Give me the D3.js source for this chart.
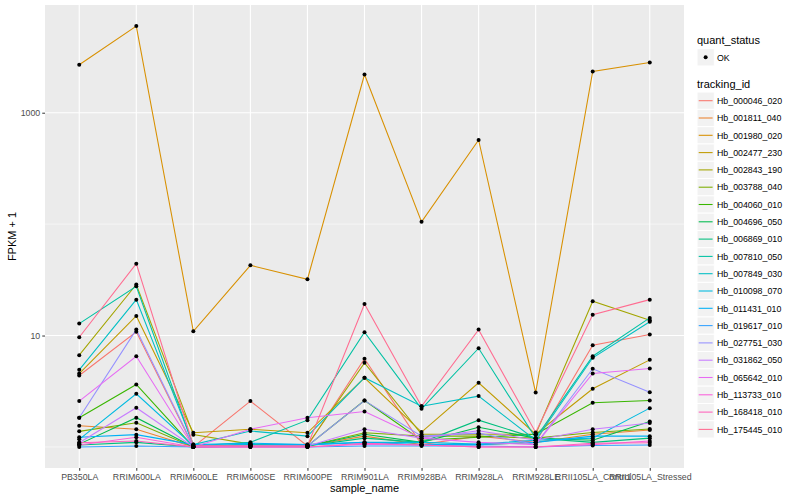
<!DOCTYPE html>
<html>
<head>
<meta charset="utf-8">
<script src="https://cdn.jsdelivr.net/npm/d3@7"></script>
<style>
  body { margin: 0; background: #fff; }
  text { font-family: "Liberation Sans", Arial, sans-serif; }
</style>
</head>
<body>
<svg id="chart" width="800" height="500"></svg>
<script>
// samples on the x axis
const samples = ["PB350LA", "RRIM600LA", "RRIM600LE", "RRIM600SE", "RRIM600PE", "RRIM901LA",
    "RRIM928BA", "RRIM928LA", "RRIM928LE", "RRII105LA_Control", "RRII105LA_Stressed"];

const trackingIds = ["Hb_000046_020", "Hb_001811_040", "Hb_001980_020", "Hb_002477_230", "Hb_002843_190",
    "Hb_003788_040", "Hb_004060_010", "Hb_004696_050", "Hb_006869_010", "Hb_007810_050",
    "Hb_007849_030", "Hb_010098_070", "Hb_011431_010", "Hb_019617_010", "Hb_027751_030",
    "Hb_031862_050", "Hb_065642_010", "Hb_113733_010", "Hb_168418_010", "Hb_175445_010"];

// FPKM + 1, one row per tracking id, one value per sample
const hb000046 = [4.38, 10.8, 1.0, 2.58, 1.02, 6.18, 1.05, 1.25, 1.1, 8.18, 10.2];
const hb001811 = [1.55, 1.44, 1.0, 1.02, 1.02, 1.25, 1.05, 1.05, 1.1, 1.3, 1.42];
const hb001980 = [2692, 5995, 10.9, 42.7, 32, 2203, 104.8, 569, 3.08, 2346, 2827];
const hb002477 = [4.56, 15.0, 1.34, 1.44, 1.34, 4.18, 1.36, 3.77, 1.3, 3.33, 6.05];
const hb002843 = [6.66, 28.7, 1.29, 1.06, 1.04, 5.69, 1.3, 1.3, 1.3, 20.3, 13.7];
const hb003788 = [1.38, 1.65, 1.0, 1.05, 1.02, 1.34, 1.25, 1.25, 1.2, 1.35, 1.45];
const hb004060 = [1.83, 3.64, 1.0, 1.02, 1.02, 2.61, 1.15, 1.22, 1.3, 2.49, 2.61];
const hb004696 = [1.06, 1.83, 1.0, 1.05, 1.02, 1.3, 1.1, 1.5, 1.2, 1.15, 1.69];
const hb006869 = [1.04, 1.1, 1.0, 1.02, 1.02, 1.2, 1.1, 1.74, 1.2, 1.1, 1.2];
const hb007810 = [12.8, 27.7, 1.02, 1.1, 1.74, 10.7, 2.2, 7.69, 1.2, 6.52, 14.4];
const hb007849 = [4.92, 21.0, 1.05, 1.39, 1.25, 4.18, 2.32, 2.86, 1.15, 6.31, 13.3];
const hb010098 = [1.17, 3.0, 1.02, 1.06, 1.05, 1.1, 1.1, 1.06, 1.15, 1.2, 2.23];
const hb011431 = [1.22, 1.29, 1.05, 1.08, 1.05, 1.1, 1.05, 1.05, 1.1, 1.25, 1.25];
const hb019617 = [1.0, 1.02, 1.0, 1.0, 1.0, 1.02, 1.02, 1.02, 1.0, 1.03, 1.04];
const hb027751 = [1.83, 11.3, 1.02, 1.03, 1.02, 2.61, 1.25, 1.33, 1.05, 5.03, 3.1];
const hb031862 = [1.09, 2.25, 1.0, 1.02, 1.02, 1.44, 1.2, 1.4, 1.15, 1.44, 1.64];
const hb065642 = [2.58, 6.52, 1.0, 1.44, 1.83, 2.08, 1.2, 1.1, 1.05, 4.56, 5.06];
const hb113733 = [1.04, 1.22, 1.0, 1.0, 1.0, 1.06, 1.04, 1.0, 1.0, 1.05, 1.13];
const hb168418 = [1.09, 1.13, 1.0, 1.0, 1.0, 1.08, 1.04, 1.0, 1.0, 1.08, 1.09];
const hb175445 = [9.66, 44.2, 1.03, 1.02, 1.02, 19.2, 2.32, 11.3, 1.35, 15.4, 21.0];

const seriesValues = [hb000046, hb001811, hb001980, hb002477, hb002843, hb003788, hb004060,
    hb004696, hb006869, hb007810, hb007849, hb010098, hb011431, hb019617, hb027751,
    hb031862, hb065642, hb113733, hb168418, hb175445];

const yTicks = [10, 1000];
const yMinor = [1, 100];

// ggplot default hue palette for 20 levels
const palette = ["#F8766D", "#EA8331", "#D89000", "#C09B00", "#A3A500", "#7CAE00", "#39B600",
    "#00BB4E", "#00BF7D", "#00C1A3", "#00BFC4", "#00BAE0", "#00B0F6", "#35A2FF", "#9590FF",
    "#C77CFF", "#E76BF3", "#FA62DB", "#FF62BC", "#FF6C91"];

const series = trackingIds.map((id, i) => ({
    id: id,
    color: palette[i],
    values: samples.map((s, j) => ({ sample: s, value: seriesValues[i][j] }))
}));

const svg = d3.select("#chart");
const panel = { left: 45, right: 684, top: 5, bottom: 468 };

const x = d3.scalePoint()
    .domain(samples)
    .range([panel.left, panel.right])
    .padding(0.6);

// log scale with 5% expansion like ggplot
const allVals = seriesValues.flat();
const lo = Math.log10(d3.min(allVals)), hi = Math.log10(d3.max(allVals));
const pad = (hi - lo) * 0.05;
const y = d3.scaleLog()
    .domain([Math.pow(10, lo - pad), Math.pow(10, hi + pad)])
    .range([panel.bottom, panel.top]);

svg.append("rect")
    .attr("x", panel.left).attr("y", panel.top)
    .attr("width", panel.right - panel.left).attr("height", panel.bottom - panel.top)
    .attr("fill", "#EBEBEB");

// grid
svg.append("g").selectAll("line")
    .data(yMinor)
    .enter().append("line")
    .attr("x1", panel.left).attr("x2", panel.right)
    .attr("y1", d => y(d)).attr("y2", d => y(d))
    .attr("stroke", "#fff").attr("stroke-width", 0.55);

svg.append("g").selectAll("line")
    .data(yTicks)
    .enter().append("line")
    .attr("x1", panel.left).attr("x2", panel.right)
    .attr("y1", d => y(d)).attr("y2", d => y(d))
    .attr("stroke", "#fff").attr("stroke-width", 1.1);

svg.append("g").selectAll("line")
    .data(samples)
    .enter().append("line")
    .attr("x1", d => x(d)).attr("x2", d => x(d))
    .attr("y1", panel.top).attr("y2", panel.bottom)
    .attr("stroke", "#fff").attr("stroke-width", 1.1);

// axes
const xAxis = d3.axisBottom(x).tickSize(2.75).tickPadding(3);
const gx = svg.append("g")
    .attr("transform", `translate(0,${panel.bottom})`)
    .call(xAxis);
gx.select(".domain").remove();
gx.selectAll("line").attr("stroke", "#333");
gx.selectAll("text").attr("fill", "#4D4D4D").attr("font-size", "8.8px")
    .attr("font-family", "Liberation Sans, Arial, sans-serif");

const yAxis = d3.axisLeft(y).tickValues(yTicks).tickFormat(d3.format("d")).tickSize(2.75).tickPadding(2);
const gy = svg.append("g")
    .attr("transform", `translate(${panel.left},0)`)
    .call(yAxis);
gy.select(".domain").remove();
gy.selectAll("line").attr("stroke", "#333");
gy.selectAll("text").attr("fill", "#4D4D4D").attr("font-size", "8.8px")
    .attr("font-family", "Liberation Sans, Arial, sans-serif");

svg.append("text")
    .attr("x", (panel.left + panel.right) / 2)
    .attr("y", 492)
    .attr("text-anchor", "middle")
    .attr("font-size", "11px")
    .text("sample_name");

svg.append("text")
    .attr("transform", `translate(16,${(panel.top + panel.bottom) / 2}) rotate(-90)`)
    .attr("text-anchor", "middle")
    .attr("font-size", "11px")
    .text("FPKM + 1");

// lines
const line = d3.line()
    .x(d => x(d.sample))
    .y(d => y(d.value));

svg.append("g").selectAll("path")
    .data(series)
    .enter().append("path")
    .attr("d", d => line(d.values))
    .attr("fill", "none")
    .attr("stroke", d => d.color)
    .attr("stroke-width", 1.07);

// points
svg.append("g").selectAll("circle")
    .data(series.flatMap(s => s.values))
    .enter().append("circle")
    .attr("cx", d => x(d.sample))
    .attr("cy", d => y(d.value))
    .attr("r", 2)
    .attr("fill", "#000");

// legend
const lg = svg.append("g").attr("transform", "translate(697,0)");
const keySize = 17.3;

lg.append("text").attr("x", 0).attr("y", 44).attr("font-size", "11px").text("quant_status");
lg.append("rect").attr("x", 0).attr("y", 57.3 - keySize / 2)
    .attr("width", keySize).attr("height", keySize)
    .attr("fill", "#F2F2F2").attr("stroke", "#fff");
lg.append("circle").attr("cx", keySize / 2).attr("cy", 57.3).attr("r", 2).attr("fill", "#000");
lg.append("text").attr("x", 20).attr("y", 60.5).attr("font-size", "8.8px").text("OK");

lg.append("text").attr("x", 0).attr("y", 88).attr("font-size", "11px").text("tracking_id");

const keys = lg.selectAll("g.key")
    .data(series)
    .enter().append("g")
    .attr("class", "key")
    .attr("transform", (d, i) => `translate(0,${100.7 + i * keySize})`);

keys.append("rect")
    .attr("x", 0).attr("y", -keySize / 2)
    .attr("width", keySize).attr("height", keySize)
    .attr("fill", "#F2F2F2").attr("stroke", "#fff");

keys.append("line")
    .attr("x1", 1.7).attr("x2", keySize - 1.7)
    .attr("y1", 0).attr("y2", 0)
    .attr("stroke", d => d.color)
    .attr("stroke-width", 1.07);

keys.append("text")
    .attr("x", 20).attr("y", 3.2)
    .attr("font-size", "8.8px")
    .text(d => d.id);
</script>
</body>
</html>
